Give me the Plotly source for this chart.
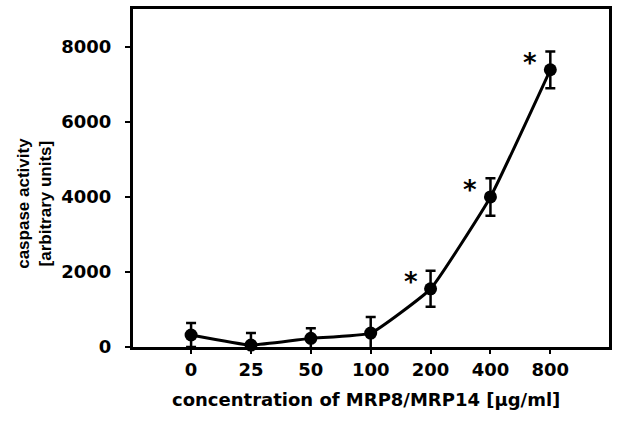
import plotly.graph_objects as go

# Data
categories = ["0", "25", "50", "100", "200", "400", "800"]
caspase = [320, 50, 230, 370, 1550, 4000, 7390]
errors = [320, 320, 270, 430, 480, 500, 490]
significant = [False, False, False, False, True, True, True]
y_ticks = [0, 2000, 4000, 6000, 8000]

x_idx = list(range(len(categories)))

fig = go.Figure()
fig.add_trace(go.Scatter(
    x=x_idx, y=caspase,
    mode="lines+markers",
    line=dict(color="black", width=3, shape="spline", smoothing=0.35),
    marker=dict(color="black", size=13, symbol="circle"),
    error_y=dict(type="data", array=errors, visible=True, color="black",
                 thickness=2.5, width=5),
    showlegend=False, cliponaxis=False,
))

for xi, yv, sig in zip(x_idx, caspase, significant):
    if sig:
        fig.add_annotation(x=xi, y=yv, xref="x", yref="y", text="*",
                           showarrow=False, xshift=-20, yshift=7,
                           font=dict(family="DejaVu Sans", size=26, color="black", weight="bold"))

tick_font = dict(family="DejaVu Sans", size=18, color="black", weight="bold")

fig.update_xaxes(
    range=[-0.97, 6.98], tickmode="array", tickvals=x_idx, ticktext=categories,
    showgrid=False, zeroline=False, showline=True, linecolor="black", linewidth=3,
    mirror=True, ticks="outside", ticklen=4, tickwidth=1.5, tickcolor="black",
    tickfont=tick_font, ticklabelstandoff=0,
)
fig.update_yaxes(
    range=[0, 9010], tickmode="array", tickvals=y_ticks,
    ticktext=[str(v) for v in y_ticks],
    showgrid=False, zeroline=False, showline=True, linecolor="black", linewidth=3,
    mirror=True, ticks="outside", ticklen=5, tickwidth=1.5, tickcolor="black",
    tickfont=tick_font, ticklabelstandoff=10,
)

fig.add_annotation(text="concentration of MRP8/MRP14 [µg/ml]", xref="paper", yref="paper",
                   x=0.49, y=-0.155, xanchor="center", yanchor="middle", showarrow=False,
                   font=dict(family="DejaVu Sans", size=18, color="black", weight="bold"))
fig.add_annotation(text="caspase activity<br>[arbitrary units]", xref="paper", yref="paper",
                   x=-0.207, y=0.425, xanchor="center", yanchor="middle", showarrow=False,
                   textangle=-90,
                   font=dict(family="Liberation Sans", size=17, color="black", weight="bold"))

fig.update_layout(
    width=617, height=423,
    margin=dict(l=133, r=5, t=9, b=76),
    paper_bgcolor="white", plot_bgcolor="white",
)

fig.write_html("out.html")
